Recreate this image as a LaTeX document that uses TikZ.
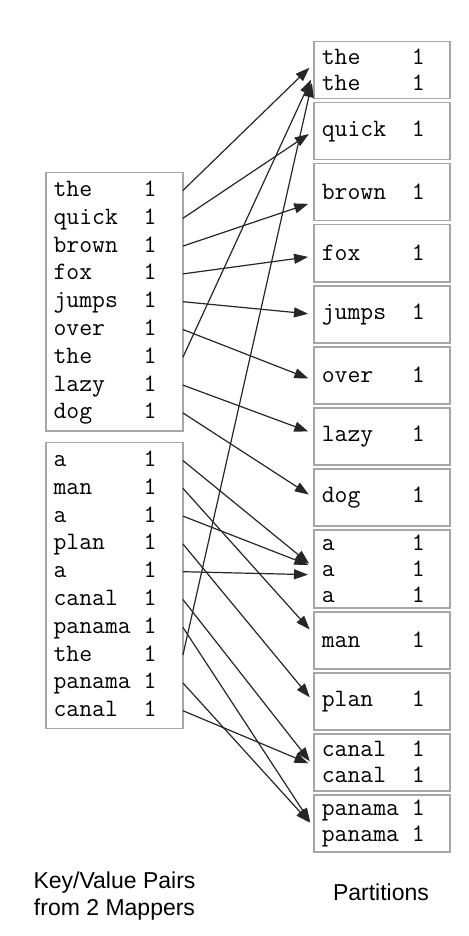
\documentclass[tikz,border=0pt]{standalone}
\usepackage{fontspec}
\newfontfamily\capfont{Liberation Sans}
\usepackage{tikz}
\usetikzlibrary{arrows.meta}
\usetikzlibrary{positioning}
\usetikzlibrary{fit}

\newcommand\kvpair[1]{\makebox[7\fontcharwd\font`m][l]{#1}1}

\tikzset{
  kv/.style={font=\ttfamily\fontsize{12.5}{13.5}\selectfont, inner xsep=3.5pt, inner ysep=0pt,
    text width=61pt, align=left, minimum height=13.5pt, text height=9pt, text depth=3pt},
  mapper/.style={draw=gray!70, line width=0.75pt, inner xsep=0pt, inner ysep=2pt},
  part/.style={draw=gray!70, line width=0.75pt, font=\ttfamily\fontsize{12.5}{13}\selectfont,
    inner xsep=4pt, inner ysep=0pt, text width=60pt, align=left, minimum height=28.5pt},
  shuffle/.style={-{Triangle[length=7pt,width=5pt]}, line width=0.6pt, draw=black!85, shorten >=2.5pt},
  caption/.style={font=\capfont\fontsize{11.5}{13.5}\selectfont, align=center}
}

\begin{document}
\begin{tikzpicture}[x=0.5pt,y=-0.5pt]
\useasboundingbox (0,0) rectangle (468,936);

\node[kv] (m1-1) at (114.5,190.5) {\kvpair{the}};
\node[kv] (m1-2) [below=0pt of m1-1] {\kvpair{quick}};
\node[kv] (m1-3) [below=0pt of m1-2] {\kvpair{brown}};
\node[kv] (m1-4) [below=0pt of m1-3] {\kvpair{fox}};
\node[kv] (m1-5) [below=0pt of m1-4] {\kvpair{jumps}};
\node[kv] (m1-6) [below=0pt of m1-5] {\kvpair{over}};
\node[kv] (m1-7) [below=0pt of m1-6] {\kvpair{the}};
\node[kv] (m1-8) [below=0pt of m1-7] {\kvpair{lazy}};
\node[kv] (m1-9) [below=0pt of m1-8] {\kvpair{dog}};
\node[mapper, fit=(m1-1)(m1-9)] (map1) {};

\node[kv] (m2-1) at (114.5,460.5) {\kvpair{a}};
\node[kv] (m2-2) [below=0pt of m2-1] {\kvpair{man}};
\node[kv] (m2-3) [below=0pt of m2-2] {\kvpair{a}};
\node[kv] (m2-4) [below=0pt of m2-3] {\kvpair{plan}};
\node[kv] (m2-5) [below=0pt of m2-4] {\kvpair{a}};
\node[kv] (m2-6) [below=0pt of m2-5] {\kvpair{canal}};
\node[kv] (m2-7) [below=0pt of m2-6] {\kvpair{panama}};
\node[kv] (m2-8) [below=0pt of m2-7] {\kvpair{the}};
\node[kv] (m2-9) [below=0pt of m2-8] {\kvpair{panama}};
\node[kv] (m2-10) [below=0pt of m2-9] {\kvpair{canal}};
\node[mapper, fit=(m2-1)(m2-10)] (map2) {};

\node[part, anchor=north west] (p1) at (313,41) {\kvpair{the}\\\kvpair{the}};
\node[part] (p2) [below=1.25pt of p1] {\kvpair{quick}};
\node[part] (p3) [below=1.25pt of p2] {\kvpair{brown}};
\node[part] (p4) [below=1.25pt of p3] {\kvpair{fox}};
\node[part] (p5) [below=1.25pt of p4] {\kvpair{jumps}};
\node[part] (p6) [below=1.25pt of p5] {\kvpair{over}};
\node[part] (p7) [below=1.25pt of p6] {\kvpair{lazy}};
\node[part] (p8) [below=1.25pt of p7] {\kvpair{dog}};
\node[part, minimum height=39pt] (p9) [below=1.25pt of p8] {\kvpair{a}\\\kvpair{a}\\\kvpair{a}};
\node[part] (p10) [below=1.25pt of p9] {\kvpair{man}};
\node[part] (p11) [below=1.25pt of p10] {\kvpair{plan}};
\node[part] (p12) [below=1.25pt of p11] {\kvpair{canal}\\\kvpair{canal}};
\node[part] (p13) [below=1.25pt of p12] {\kvpair{panama}\\\kvpair{panama}};

\draw[shuffle] (m1-1.east) -- ([yshift=3pt]p1.west);
\draw[shuffle] (m1-2.east) -- (p2.west);
\draw[shuffle] (m1-3.east) -- ([yshift=-5pt]p3.west);
\draw[shuffle] (m1-4.east) -- ([yshift=-1.5pt]p4.west);
\draw[shuffle] (m1-5.east) -- (p5.west);
\draw[shuffle] (m1-6.east) -- ([yshift=-2.5pt]p6.west);
\draw[shuffle] (m1-7.east) -- ([yshift=-2.5pt]p1.west);
\draw[shuffle] (m1-8.east) -- ([yshift=1.5pt]p7.west);
\draw[shuffle] (m1-9.east) -- (p8.west);

\draw[shuffle] (m2-1.east) -- ([yshift=1pt]p9.west);
\draw[shuffle] (m2-2.east) -- ([yshift=3.5pt]p10.west);
\draw[shuffle] (m2-3.east) -- ([yshift=1pt]p9.west);
\draw[shuffle] (m2-4.east) -- (p11.west);
\draw[shuffle] (m2-5.east) -- ([yshift=-3pt]p9.west);
\draw[shuffle] (m2-6.east) -- ([yshift=-1.5pt]p12.west);
\draw[shuffle] (m2-7.east) -- ([yshift=-1.5pt]p13.west);
\draw[shuffle] (m2-8.east) -- ([yshift=-4pt]p1.west);
\draw[shuffle] (m2-9.east) -- ([yshift=-1.5pt]p13.west);
\draw[shuffle] (m2-10.east) -- ([yshift=-1.5pt]p12.west);

\node[caption] (lbl1) at (114.5,896) {Key/Value Pairs\\from 2 Mappers};
\node[caption] (lbl2) at (381,892) {Partitions};
\end{tikzpicture}
\end{document}
